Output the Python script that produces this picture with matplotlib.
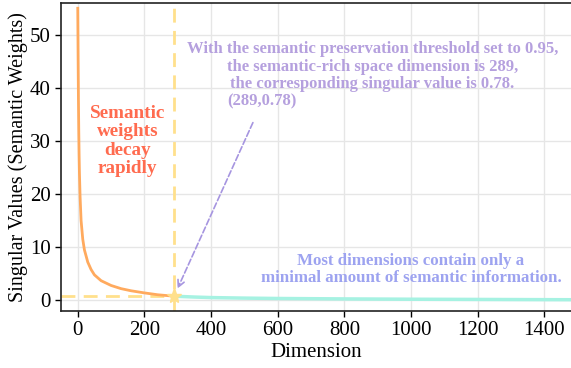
import matplotlib
matplotlib.use("Agg")
import matplotlib.pyplot as plt

# Singular value curve
head_dims = [0, 1, 2, 3, 4, 5, 7, 10, 15, 20, 30, 40, 50, 70, 100, 130, 160, 200, 240, 289]
head_vals = [55.0, 46.0, 38.0, 32.0, 27.5, 24.0, 19.5, 15.0, 11.5, 9.5, 7.2, 5.8, 4.8, 3.7, 2.8, 2.2, 1.8, 1.4, 1.05, 0.78]
tail_dims = [289, 350, 400, 500, 600, 800, 1000, 1200, 1400, 1536]
tail_vals = [0.78, 0.62, 0.52, 0.42, 0.35, 0.27, 0.21, 0.17, 0.13, 0.11]
thr_dim = 289
thr_val = 0.78
xticks = [0, 200, 400, 600, 800, 1000, 1200, 1400]
yticks = [0, 10, 20, 30, 40, 50]

plt.rcParams['font.family'] = ['Liberation Serif', 'DejaVu Serif']

fig = plt.figure(figsize=(5.71, 3.68), dpi=100)
ax = fig.add_axes([0.107, 0.155, 0.893, 0.837])

ax.grid(True, color='#e6e6e6', linewidth=1.0, zorder=0)
ax.set_axisbelow(True)

ax.plot(head_dims, head_vals, color='#FFAA5E', linewidth=2.0, zorder=3)
ax.plot(tail_dims, tail_vals, color='#A6F2E2', linewidth=2.5, zorder=3)

ax.axvline(thr_dim, color='#FFE08C', linestyle=(0, (5, 3)), linewidth=2.0, zorder=2)
ax.plot([-50, thr_dim], [thr_val, thr_val], color='#FFE08C', linestyle=(0, (5, 3)), linewidth=2.0, zorder=2)
ax.plot([thr_dim], [thr_val], marker='*', markersize=11, color='#FFE08C', zorder=5, markeredgecolor='#FFE08C')

ax.text(149, 30, "Semantic\nweights\ndecay\nrapidly", color='#FF6B4F', fontsize=13.8,
        fontweight='bold', ha='center', va='center', linespacing=1.12)

ax.text(884, 44, "With the semantic preservation threshold set to 0.95,\n"
        "the semantic-rich space dimension is 289,\n"
        "the corresponding singular value is 0.78.",
        color='#B5A0DE', fontsize=12, fontweight='bold', ha='center', va='center', linespacing=1.1)

ax.annotate(f"({thr_dim},{thr_val})", xy=(thr_dim, thr_val), xytext=(554, 37.4),
            color='#B5A0DE', fontsize=12, fontweight='bold', ha='center', va='center',
            arrowprops=dict(arrowstyle='->', color='#A695E0', linestyle='--', linewidth=1.2,
                            shrinkA=8, shrinkB=6))

ax.text(1000, 5.8, "Most dimensions contain only a\nminimal amount of semantic information.",
        color='#9DA3F0', fontsize=12.2, fontweight='bold', ha='center', va='center', linespacing=1.1)

ax.set_xlim(-50, 1480)
ax.set_ylim(-2, 56)
ax.set_xticks(xticks)
ax.set_yticks(yticks)
ax.tick_params(labelsize=15, direction='out', length=4, width=1)
ax.set_xlabel("Dimension", fontsize=15, labelpad=2)
ax.set_ylabel("Singular Values (Semantic Weights)", fontsize=14.5, labelpad=1)
ax.spines['right'].set_visible(False)
for s in ['left', 'bottom', 'top']:
    ax.spines[s].set_linewidth(1.2)
    ax.spines[s].set_color('#222222')

fig.savefig("out.png", dpi=100)
